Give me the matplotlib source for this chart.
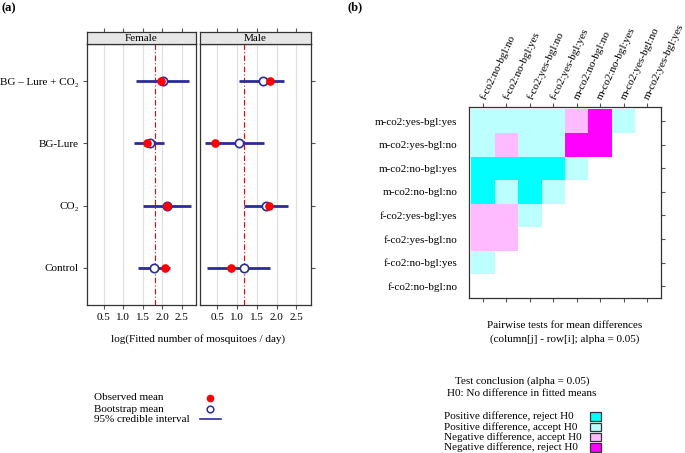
import numpy as np
import matplotlib
matplotlib.use('Agg')
import matplotlib.pyplot as plt
from matplotlib.colors import ListedColormap
from matplotlib.patches import Rectangle
from matplotlib.lines import Line2D

plt.rcParams['font.family'] = ['Liberation Serif', 'DejaVu Serif']
plt.rcParams['font.size'] = 8

# ============================================================
#  data (a)
# ============================================================
groups = ['Control', 'CO\u2082', 'BG-Lure', 'BG \u2013 Lure + CO\u2082']   # bottom -> top

female_obs = [2.08, 2.13, 1.60, 1.98]
female_boot = [1.80, 2.12, 1.70, 2.03]
female_lo = [1.39, 1.50, 1.27, 1.34]
female_hi = [2.20, 2.75, 2.06, 2.69]
female_ref = 1.81

male_obs = [0.85, 1.82, 0.45, 1.84]
male_boot = [1.18, 1.74, 1.06, 1.66]
male_lo = [0.25, 1.18, 0.20, 1.06]
male_hi = [1.83, 2.30, 1.69, 2.19]
male_ref = 1.18

x_ticks = [0.5, 1.0, 1.5, 2.0, 2.5]

# ============================================================
#  data (b)
# ============================================================
col_labels = ['f-co2:no-bgl:no', 'f-co2:no-bgl:yes', 'f-co2:yes-bgl:no', 'f-co2:yes-bgl:yes',
              'm-co2:no-bgl:no', 'm-co2:no-bgl:yes', 'm-co2:yes-bgl:no', 'm-co2:yes-bgl:yes']
row_labels = col_labels  # bottom -> top

# 0 = none, 1 = pos reject, 2 = pos accept, 3 = neg accept, 4 = neg reject
# rows bottom -> top
test_matrix = [
    [0, 0, 0, 0, 0, 0, 0, 0],
    [2, 0, 0, 0, 0, 0, 0, 0],
    [3, 3, 0, 0, 0, 0, 0, 0],
    [3, 3, 2, 0, 0, 0, 0, 0],
    [1, 2, 1, 2, 0, 0, 0, 0],
    [1, 1, 1, 1, 2, 0, 0, 0],
    [2, 3, 2, 2, 4, 4, 0, 0],
    [2, 2, 2, 2, 3, 4, 2, 0],
]
legend_labels = ['Positive difference, reject H0', 'Positive difference, accept H0',
                 'Negative difference, accept H0', 'Negative difference, reject H0']
legend_colors = ['#00ffff', '#bbffff', '#ffbbff', '#ff00ff']

W, H = 685, 453
fig = plt.figure(figsize=(W / 100, H / 100), dpi=100)


def box(x0, y0, x1, y1):
    # pixel box -> figure fraction
    return [x0 / W, 1 - y1 / H, (x1 - x0) / W, (y1 - y0) / H]


def fx(x):
    return x / W


def fy(y):
    return 1 - y / H


EDGE = '#333333'
BLUE = '#2b2b9c'

# ============================================================
#  (a) dot plot panels
# ============================================================
panels = [
    ('Female', 87, 196, female_obs, female_boot, female_lo, female_hi, female_ref),
    ('Male', 200, 311, male_obs, male_boot, male_lo, male_hi, male_ref),
]
ypos = np.arange(1, len(groups) + 1)

for i, (name, x0, x1, obs, boot, lo, hi, ref) in enumerate(panels):
    ax = fig.add_axes(box(x0, 44, x1, 305))
    ax.set_xlim(0.07, 2.87)
    ax.set_ylim(0.4, 4.6)
    for t in x_ticks:
        ax.axvline(t, color='#e0e0e0', lw=0.9, zorder=0)
    ax.axvline(ref, color='red', lw=0.8, ls=(0, (5, 2, 1, 2)), zorder=1)
    ax.hlines(ypos, lo, hi, color=BLUE, lw=2.0, zorder=2)
    ax.plot(boot, ypos, 'o', mfc='white', mec=BLUE, mew=1.2, ms=6, zorder=3)
    ax.plot(obs, ypos, 'o', color='red', ms=5.2, zorder=4)
    ax.set_xticks(x_ticks)
    ax.set_xticklabels(['%.1f' % t for t in x_ticks])
    ax.set_yticks(ypos)
    if i == 0:
        ax.set_yticklabels(groups)
        ax.tick_params(axis='y', left=True, right=False, labelleft=True)
    else:
        ax.tick_params(axis='y', left=False, right=True, labelleft=False)
    ax.tick_params(direction='out', length=3, width=0.8, color='#555555', pad=3)
    for s in ax.spines.values():
        s.set_color(EDGE)
        s.set_linewidth(0.9)

    # strip
    st = fig.add_axes(box(x0, 32, x1, 44))
    st.set_facecolor('#e6e6e6')
    st.set_xlim(0.07, 2.87)
    st.set_xticks(x_ticks)
    st.tick_params(axis='x', top=True, bottom=False, labeltop=False, labelbottom=False,
                   direction='out', length=3, width=0.8, color='#555555')
    st.set_yticks([])
    st.text(0.5, 0.45, name, transform=st.transAxes, ha='center', va='center', fontsize=8)
    for s in st.spines.values():
        s.set_color(EDGE)
        s.set_linewidth(0.9)

fig.text(fx(198), fy(339), 'log(Fitted number of mosquitoes / day)', ha='center', va='center')
fig.text(fx(2), fy(8), '(a)', ha='left', va='center', fontsize=9, fontweight='bold')

# legend (a)
leg_y = [398, 409, 419]
leg_txt = ['Observed mean', 'Bootstrap mean', '95% credible interval']
for y, t in zip(leg_y, leg_txt):
    fig.text(fx(94), fy(y), t, ha='left', va='center')
fig.add_artist(Line2D([fx(210)], [fy(398)], marker='o', color='red', ms=4.5, ls='none'))
fig.add_artist(Line2D([fx(210)], [fy(408.5)], marker='o', mfc='white', mec=BLUE, mew=1.1,
                      ms=4.8, ls='none'))
fig.add_artist(Line2D([fx(200), fx(221)], [fy(418.5), fy(418.5)], color=BLUE, lw=1.2))

# ============================================================
#  (b) pairwise test heatmap
# ============================================================
hm = fig.add_axes(box(469, 107, 661, 298))
mat = np.ma.masked_equal(np.array(test_matrix), 0)
cmap = ListedColormap(legend_colors)
n = len(col_labels)
edges = np.arange(n + 1) - 0.5
hm.pcolormesh(edges, edges, mat, cmap=cmap, vmin=0.5, vmax=4.5)
hm.set_xlim(-0.6, n - 0.4)
hm.set_ylim(-0.5, n - 0.4)
hm.set_xticks(np.arange(n))
hm.set_xticklabels(col_labels, rotation=65, ha='left', va='center', rotation_mode='anchor')
hm.tick_params(axis='x', top=True, bottom=True, labeltop=True, labelbottom=False,
               direction='out', length=3, width=0.8, color='#555555', pad=3)
hm.set_yticks(np.arange(n))
hm.set_yticklabels(row_labels)
hm.tick_params(axis='y', left=False, right=True, labelleft=True, direction='out',
               length=3, width=0.8, color='#555555', pad=5.5)
for s in hm.spines.values():
    s.set_color(EDGE)
    s.set_linewidth(0.9)

fig.text(fx(565), fy(326), 'Pairwise tests for mean differences', ha='center', va='center')
fig.text(fx(565), fy(339), '(column[j] - row[i]; alpha = 0.05)', ha='center', va='center')
fig.text(fx(522), fy(381), 'Test conclusion (alpha = 0.05)', ha='center', va='center')
fig.text(fx(522), fy(394), 'H0: No difference in fitted means', ha='center', va='center')

for k, (lab, col) in enumerate(zip(legend_labels, legend_colors)):
    y = 416.5 + k * 10.3
    fig.text(fx(444), fy(y), lab, ha='left', va='center')
    fig.add_artist(Rectangle((fx(590), fy(y + 4.2)), 11 / W, 8.4 / H, transform=fig.transFigure,
                             facecolor=col, edgecolor='#333333', lw=0.9))

fig.text(fx(348), fy(7), '(b)', ha='left', va='center', fontsize=9, fontweight='bold')

fig.savefig('out.png', dpi=100)
